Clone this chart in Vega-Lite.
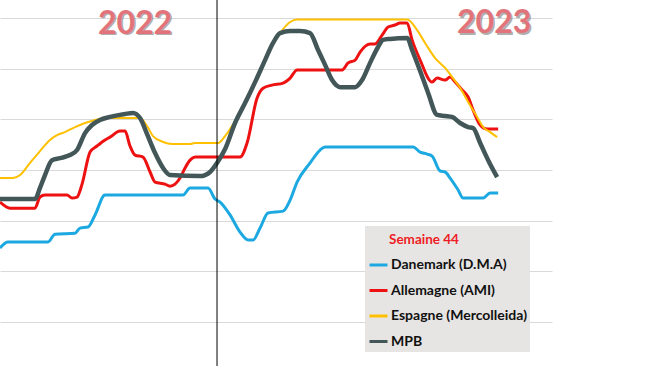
{
  "$schema": "https://vega.github.io/schema/vega-lite/v6.json",
  "width": 552,
  "height": 366,
  "autosize": {"type": "none"},
  "padding": {"left": 0, "top": 0, "right": 98, "bottom": 0},
  "background": "white",
  "config": {"view": {"stroke": null}},
  "datasets": {
    "prix": [
      {"serie": "Danemark (D.M.A)", "semaine": 19.1, "prix": 1.491},
      {"serie": "Danemark (D.M.A)", "semaine": 20.33, "prix": 1.515},
      {"serie": "Danemark (D.M.A)", "semaine": 26.48, "prix": 1.515},
      {"serie": "Danemark (D.M.A)", "semaine": 27.56, "prix": 1.546},
      {"serie": "Danemark (D.M.A)", "semaine": 30.64, "prix": 1.55},
      {"serie": "Danemark (D.M.A)", "semaine": 31.41, "prix": 1.57},
      {"serie": "Danemark (D.M.A)", "semaine": 32.64, "prix": 1.574},
      {"serie": "Danemark (D.M.A)", "semaine": 33.72, "prix": 1.622},
      {"serie": "Danemark (D.M.A)", "semaine": 35.25, "prix": 1.701},
      {"serie": "Danemark (D.M.A)", "semaine": 47.25, "prix": 1.701},
      {"serie": "Danemark (D.M.A)", "semaine": 48.33, "prix": 1.729},
      {"serie": "Danemark (D.M.A)", "semaine": 51.1, "prix": 1.729},
      {"serie": "Danemark (D.M.A)", "semaine": 52.18, "prix": 1.685},
      {"serie": "Danemark (D.M.A)", "semaine": 52.95, "prix": 1.673},
      {"serie": "Danemark (D.M.A)", "semaine": 54.48, "prix": 1.622},
      {"serie": "Danemark (D.M.A)", "semaine": 56.02, "prix": 1.554},
      {"serie": "Danemark (D.M.A)", "semaine": 57.25, "prix": 1.523},
      {"serie": "Danemark (D.M.A)", "semaine": 58.02, "prix": 1.523},
      {"serie": "Danemark (D.M.A)", "semaine": 59.1, "prix": 1.57},
      {"serie": "Danemark (D.M.A)", "semaine": 60.33, "prix": 1.63},
      {"serie": "Danemark (D.M.A)", "semaine": 62.64, "prix": 1.637},
      {"serie": "Danemark (D.M.A)", "semaine": 63.72, "prix": 1.681},
      {"serie": "Danemark (D.M.A)", "semaine": 64.79, "prix": 1.752},
      {"serie": "Danemark (D.M.A)", "semaine": 66.79, "prix": 1.828},
      {"serie": "Danemark (D.M.A)", "semaine": 68.33, "prix": 1.879},
      {"serie": "Danemark (D.M.A)", "semaine": 69.1, "prix": 1.891},
      {"serie": "Danemark (D.M.A)", "semaine": 82.64, "prix": 1.891},
      {"serie": "Danemark (D.M.A)", "semaine": 83.72, "prix": 1.871},
      {"serie": "Danemark (D.M.A)", "semaine": 84.79, "prix": 1.863},
      {"serie": "Danemark (D.M.A)", "semaine": 85.56, "prix": 1.855},
      {"serie": "Danemark (D.M.A)", "semaine": 86.79, "prix": 1.796},
      {"serie": "Danemark (D.M.A)", "semaine": 87.56, "prix": 1.792},
      {"serie": "Danemark (D.M.A)", "semaine": 88.33, "prix": 1.768},
      {"serie": "Danemark (D.M.A)", "semaine": 89.56, "prix": 1.721},
      {"serie": "Danemark (D.M.A)", "semaine": 90.33, "prix": 1.689},
      {"serie": "Danemark (D.M.A)", "semaine": 93.41, "prix": 1.689},
      {"serie": "Danemark (D.M.A)", "semaine": 94.48, "prix": 1.709},
      {"serie": "Danemark (D.M.A)", "semaine": 95.72, "prix": 1.709},

      {"serie": "Allemagne (AMI)", "semaine": 19.1, "prix": 1.673},
      {"serie": "Allemagne (AMI)", "semaine": 20.64, "prix": 1.649},
      {"serie": "Allemagne (AMI)", "semaine": 24.48, "prix": 1.649},
      {"serie": "Allemagne (AMI)", "semaine": 25.25, "prix": 1.693},
      {"serie": "Allemagne (AMI)", "semaine": 26.02, "prix": 1.701},
      {"serie": "Allemagne (AMI)", "semaine": 29.41, "prix": 1.701},
      {"serie": "Allemagne (AMI)", "semaine": 30.18, "prix": 1.689},
      {"serie": "Allemagne (AMI)", "semaine": 30.95, "prix": 1.693},
      {"serie": "Allemagne (AMI)", "semaine": 31.72, "prix": 1.744},
      {"serie": "Allemagne (AMI)", "semaine": 32.95, "prix": 1.871},
      {"serie": "Allemagne (AMI)", "semaine": 34.02, "prix": 1.895},
      {"serie": "Allemagne (AMI)", "semaine": 35.25, "prix": 1.919},
      {"serie": "Allemagne (AMI)", "semaine": 36.02, "prix": 1.93},
      {"serie": "Allemagne (AMI)", "semaine": 37.56, "prix": 1.954},
      {"serie": "Allemagne (AMI)", "semaine": 38.33, "prix": 1.954},
      {"serie": "Allemagne (AMI)", "semaine": 39.1, "prix": 1.895},
      {"serie": "Allemagne (AMI)", "semaine": 39.87, "prix": 1.859},
      {"serie": "Allemagne (AMI)", "semaine": 41.1, "prix": 1.851},
      {"serie": "Allemagne (AMI)", "semaine": 42.18, "prix": 1.792},
      {"serie": "Allemagne (AMI)", "semaine": 42.95, "prix": 1.752},
      {"serie": "Allemagne (AMI)", "semaine": 44.48, "prix": 1.744},
      {"serie": "Allemagne (AMI)", "semaine": 45.25, "prix": 1.736},
      {"serie": "Allemagne (AMI)", "semaine": 46.02, "prix": 1.744},
      {"serie": "Allemagne (AMI)", "semaine": 46.79, "prix": 1.768},
      {"serie": "Allemagne (AMI)", "semaine": 47.56, "prix": 1.808},
      {"serie": "Allemagne (AMI)", "semaine": 48.33, "prix": 1.839},
      {"serie": "Allemagne (AMI)", "semaine": 49.1, "prix": 1.851},
      {"serie": "Allemagne (AMI)", "semaine": 56.02, "prix": 1.851},
      {"serie": "Allemagne (AMI)", "semaine": 57.1, "prix": 1.907},
      {"serie": "Allemagne (AMI)", "semaine": 58.64, "prix": 2.085},
      {"serie": "Allemagne (AMI)", "semaine": 59.56, "prix": 2.124},
      {"serie": "Allemagne (AMI)", "semaine": 60.95, "prix": 2.136},
      {"serie": "Allemagne (AMI)", "semaine": 62.64, "prix": 2.144},
      {"serie": "Allemagne (AMI)", "semaine": 63.72, "prix": 2.164},
      {"serie": "Allemagne (AMI)", "semaine": 64.79, "prix": 2.196},
      {"serie": "Allemagne (AMI)", "semaine": 71.72, "prix": 2.196},
      {"serie": "Allemagne (AMI)", "semaine": 72.64, "prix": 2.224},
      {"serie": "Allemagne (AMI)", "semaine": 73.72, "prix": 2.235},
      {"serie": "Allemagne (AMI)", "semaine": 74.48, "prix": 2.267},
      {"serie": "Allemagne (AMI)", "semaine": 76.02, "prix": 2.299},
      {"serie": "Allemagne (AMI)", "semaine": 76.79, "prix": 2.299},
      {"serie": "Allemagne (AMI)", "semaine": 77.87, "prix": 2.334},
      {"serie": "Allemagne (AMI)", "semaine": 78.79, "prix": 2.366},
      {"serie": "Allemagne (AMI)", "semaine": 79.87, "prix": 2.374},
      {"serie": "Allemagne (AMI)", "semaine": 80.64, "prix": 2.382},
      {"serie": "Allemagne (AMI)", "semaine": 81.72, "prix": 2.382},
      {"serie": "Allemagne (AMI)", "semaine": 82.48, "prix": 2.315},
      {"serie": "Allemagne (AMI)", "semaine": 83.72, "prix": 2.235},
      {"serie": "Allemagne (AMI)", "semaine": 85.56, "prix": 2.148},
      {"serie": "Allemagne (AMI)", "semaine": 86.33, "prix": 2.164},
      {"serie": "Allemagne (AMI)", "semaine": 87.56, "prix": 2.156},
      {"serie": "Allemagne (AMI)", "semaine": 88.33, "prix": 2.168},
      {"serie": "Allemagne (AMI)", "semaine": 89.1, "prix": 2.148},
      {"serie": "Allemagne (AMI)", "semaine": 90.18, "prix": 2.117},
      {"serie": "Allemagne (AMI)", "semaine": 91.1, "prix": 2.089},
      {"serie": "Allemagne (AMI)", "semaine": 91.87, "prix": 2.037},
      {"serie": "Allemagne (AMI)", "semaine": 92.95, "prix": 1.978},
      {"serie": "Allemagne (AMI)", "semaine": 94.02, "prix": 1.962},
      {"serie": "Allemagne (AMI)", "semaine": 95.72, "prix": 1.962},

      {"serie": "Espagne (Mercolleida)", "semaine": 19.1, "prix": 1.768},
      {"serie": "Espagne (Mercolleida)", "semaine": 21.1, "prix": 1.768},
      {"serie": "Espagne (Mercolleida)", "semaine": 22.18, "prix": 1.78},
      {"serie": "Espagne (Mercolleida)", "semaine": 23.72, "prix": 1.828},
      {"serie": "Espagne (Mercolleida)", "semaine": 25.25, "prix": 1.875},
      {"serie": "Espagne (Mercolleida)", "semaine": 26.79, "prix": 1.919},
      {"serie": "Espagne (Mercolleida)", "semaine": 27.87, "prix": 1.938},
      {"serie": "Espagne (Mercolleida)", "semaine": 29.1, "prix": 1.95},
      {"serie": "Espagne (Mercolleida)", "semaine": 30.64, "prix": 1.97},
      {"serie": "Espagne (Mercolleida)", "semaine": 32.18, "prix": 1.986},
      {"serie": "Espagne (Mercolleida)", "semaine": 33.72, "prix": 1.998},
      {"serie": "Espagne (Mercolleida)", "semaine": 35.25, "prix": 2.006},
      {"serie": "Espagne (Mercolleida)", "semaine": 40.64, "prix": 2.006},
      {"serie": "Espagne (Mercolleida)", "semaine": 41.72, "prix": 1.974},
      {"serie": "Espagne (Mercolleida)", "semaine": 42.64, "prix": 1.934},
      {"serie": "Espagne (Mercolleida)", "semaine": 44.18, "prix": 1.911},
      {"serie": "Espagne (Mercolleida)", "semaine": 45.56, "prix": 1.903},
      {"serie": "Espagne (Mercolleida)", "semaine": 48.33, "prix": 1.903},
      {"serie": "Espagne (Mercolleida)", "semaine": 49.1, "prix": 1.907},
      {"serie": "Espagne (Mercolleida)", "semaine": 52.64, "prix": 1.907},
      {"serie": "Espagne (Mercolleida)", "semaine": 53.72, "prix": 1.934},
      {"serie": "Espagne (Mercolleida)", "semaine": 54.79, "prix": 1.974},
      {"serie": "Espagne (Mercolleida)", "semaine": 56.02, "prix": 2.026},
      {"serie": "Espagne (Mercolleida)", "semaine": 57.56, "prix": 2.105},
      {"serie": "Espagne (Mercolleida)", "semaine": 59.1, "prix": 2.188},
      {"serie": "Espagne (Mercolleida)", "semaine": 60.64, "prix": 2.275},
      {"serie": "Espagne (Mercolleida)", "semaine": 62.18, "prix": 2.342},
      {"serie": "Espagne (Mercolleida)", "semaine": 63.72, "prix": 2.386},
      {"serie": "Espagne (Mercolleida)", "semaine": 64.79, "prix": 2.396},
      {"serie": "Espagne (Mercolleida)", "semaine": 81.72, "prix": 2.396},
      {"serie": "Espagne (Mercolleida)", "semaine": 83.25, "prix": 2.354},
      {"serie": "Espagne (Mercolleida)", "semaine": 84.48, "prix": 2.303},
      {"serie": "Espagne (Mercolleida)", "semaine": 86.02, "prix": 2.243},
      {"serie": "Espagne (Mercolleida)", "semaine": 87.56, "prix": 2.204},
      {"serie": "Espagne (Mercolleida)", "semaine": 88.64, "prix": 2.168},
      {"serie": "Espagne (Mercolleida)", "semaine": 89.87, "prix": 2.125},
      {"serie": "Espagne (Mercolleida)", "semaine": 91.1, "prix": 2.069},
      {"serie": "Espagne (Mercolleida)", "semaine": 92.48, "prix": 2.01},
      {"serie": "Espagne (Mercolleida)", "semaine": 93.41, "prix": 1.97},
      {"serie": "Espagne (Mercolleida)", "semaine": 94.48, "prix": 1.95},
      {"serie": "Espagne (Mercolleida)", "semaine": 95.56, "prix": 1.93},

      {"serie": "MPB", "semaine": 19.1, "prix": 1.685},
      {"serie": "MPB", "semaine": 24.48, "prix": 1.685},
      {"serie": "MPB", "semaine": 25.25, "prix": 1.729},
      {"serie": "MPB", "semaine": 26.02, "prix": 1.78},
      {"serie": "MPB", "semaine": 27.1, "prix": 1.839},
      {"serie": "MPB", "semaine": 28.33, "prix": 1.847},
      {"serie": "MPB", "semaine": 29.87, "prix": 1.859},
      {"serie": "MPB", "semaine": 30.95, "prix": 1.879},
      {"serie": "MPB", "semaine": 32.18, "prix": 1.946},
      {"serie": "MPB", "semaine": 33.25, "prix": 1.978},
      {"serie": "MPB", "semaine": 34.48, "prix": 1.998},
      {"serie": "MPB", "semaine": 36.02, "prix": 2.01},
      {"serie": "MPB", "semaine": 38.33, "prix": 2.022},
      {"serie": "MPB", "semaine": 39.56, "prix": 2.026},
      {"serie": "MPB", "semaine": 40.64, "prix": 2.006},
      {"serie": "MPB", "semaine": 41.72, "prix": 1.942},
      {"serie": "MPB", "semaine": 42.95, "prix": 1.867},
      {"serie": "MPB", "semaine": 44.18, "prix": 1.808},
      {"serie": "MPB", "semaine": 45.25, "prix": 1.78},
      {"serie": "MPB", "semaine": 49.87, "prix": 1.776},
      {"serie": "MPB", "semaine": 50.64, "prix": 1.78},
      {"serie": "MPB", "semaine": 51.41, "prix": 1.792},
      {"serie": "MPB", "semaine": 52.48, "prix": 1.828},
      {"serie": "MPB", "semaine": 53.72, "prix": 1.883},
      {"serie": "MPB", "semaine": 55.25, "prix": 1.986},
      {"serie": "MPB", "semaine": 56.79, "prix": 2.065},
      {"serie": "MPB", "semaine": 58.33, "prix": 2.148},
      {"serie": "MPB", "semaine": 59.87, "prix": 2.235},
      {"serie": "MPB", "semaine": 61.1, "prix": 2.303},
      {"serie": "MPB", "semaine": 62.18, "prix": 2.342},
      {"serie": "MPB", "semaine": 63.72, "prix": 2.35},
      {"serie": "MPB", "semaine": 65.25, "prix": 2.35},
      {"serie": "MPB", "semaine": 66.79, "prix": 2.342},
      {"serie": "MPB", "semaine": 68.02, "prix": 2.275},
      {"serie": "MPB", "semaine": 69.1, "prix": 2.216},
      {"serie": "MPB", "semaine": 70.18, "prix": 2.156},
      {"serie": "MPB", "semaine": 71.41, "prix": 2.128},
      {"serie": "MPB", "semaine": 73.72, "prix": 2.128},
      {"serie": "MPB", "semaine": 74.79, "prix": 2.156},
      {"serie": "MPB", "semaine": 76.02, "prix": 2.224},
      {"serie": "MPB", "semaine": 77.25, "prix": 2.287},
      {"serie": "MPB", "semaine": 78.02, "prix": 2.315},
      {"serie": "MPB", "semaine": 79.1, "prix": 2.319},
      {"serie": "MPB", "semaine": 81.72, "prix": 2.323},
      {"serie": "MPB", "semaine": 82.48, "prix": 2.275},
      {"serie": "MPB", "semaine": 83.72, "prix": 2.192},
      {"serie": "MPB", "semaine": 84.95, "prix": 2.105},
      {"serie": "MPB", "semaine": 86.33, "prix": 2.018},
      {"serie": "MPB", "semaine": 87.56, "prix": 2.014},
      {"serie": "MPB", "semaine": 88.64, "prix": 2.01},
      {"serie": "MPB", "semaine": 89.87, "prix": 1.986},
      {"serie": "MPB", "semaine": 91.1, "prix": 1.97},
      {"serie": "MPB", "semaine": 91.87, "prix": 1.966},
      {"serie": "MPB", "semaine": 92.95, "prix": 1.907},
      {"serie": "MPB", "semaine": 94.18, "prix": 1.839},
      {"serie": "MPB", "semaine": 95.56, "prix": 1.772}
    ],
    "annees": [
      {"semaine": 39.87, "prix": 2.378, "annee": "2022"},
      {"semaine": 95.1, "prix": 2.38, "annee": "2023"}
    ],
    "separation": [
      {"semaine": 52.48}
    ]
  },
  "layer": [
    {
      "data": {"name": "prix"},
      "transform": [{"filter": {"field": "serie", "oneOf": ["Danemark (D.M.A)", "Allemagne (AMI)"]}}],
      "mark": {"type": "line", "interpolate": "monotone", "clip": true, "strokeWidth": 3},
      "encoding": {
        "x": {"field": "semaine", "type": "quantitative", "scale": {"domain": [19.1, 104], "nice": false, "zero": false}, "axis": null},
        "y": {"field": "prix", "type": "quantitative", "scale": {"domain": [1.024, 2.473], "nice": false, "zero": false},
              "axis": {"values": [1.2, 1.4, 1.6, 1.8, 2.0, 2.2, 2.4], "grid": true, "gridColor": "#d9d9d9", "gridWidth": 1, "labels": false, "ticks": false, "domain": false, "title": null}},
        "color": {
          "field": "serie", "type": "nominal",
          "scale": {"domain": ["Danemark (D.M.A)", "Allemagne (AMI)", "Espagne (Mercolleida)", "MPB"], "range": ["#1ca8e0", "#ee1111", "#ffc000", "#435759"]},
          "legend": {
            "title": "Semaine 44",
            "orient": "none",
            "legendX": 365,
            "legendY": 226,
            "fillColor": "#e7e5e3",
            "padding": 3,
            "titleColor": "#ee1c25",
            "titleFont": "Lato",
            "titleFontSize": 13.5,
            "titleFontWeight": "bold",
            "titlePadding": 12,
            "labelFont": "Lato",
            "labelFontSize": 14,
            "labelFontWeight": "bold",
            "labelColor": "#111111",
            "labelLimit": 300,
            "labelOffset": 2,
            "symbolType": "stroke",
            "symbolSize": 324,
            "symbolStrokeWidth": 3,
            "rowPadding": 7.5,
            "encoding": {"title": {"dx": {"value": 21}, "dy": {"value": 4}}}
          }
        }
      }
    },
    {
      "data": {"name": "prix"},
      "transform": [{"filter": {"field": "serie", "equal": "Espagne (Mercolleida)"}}],
      "mark": {"type": "line", "interpolate": "monotone", "clip": true, "strokeWidth": 2, "color": "#ffc000"},
      "encoding": {
        "x": {"field": "semaine", "type": "quantitative"},
        "y": {"field": "prix", "type": "quantitative"}
      }
    },
    {
      "data": {"name": "prix"},
      "transform": [{"filter": {"field": "serie", "equal": "MPB"}}],
      "mark": {"type": "line", "interpolate": "monotone", "clip": true, "strokeWidth": 4.5, "color": "#435759"},
      "encoding": {
        "x": {"field": "semaine", "type": "quantitative"},
        "y": {"field": "prix", "type": "quantitative"}
      }
    },
    {
      "data": {"name": "separation"},
      "mark": {"type": "rule", "color": "#000000", "strokeWidth": 1},
      "encoding": {
        "x": {"field": "semaine", "type": "quantitative"}
      }
    },
    {
      "data": {"name": "annees"},
      "mark": {"type": "text", "font": "Lato", "fontSize": 32, "fontWeight": "bold", "color": "#6e6e6e", "opacity": 0.55, "dx": 1.5, "dy": 1.5, "align": "center", "baseline": "middle"},
      "encoding": {
        "x": {"field": "semaine", "type": "quantitative"},
        "y": {"field": "prix", "type": "quantitative"},
        "text": {"field": "annee"}
      }
    },
    {
      "data": {"name": "annees"},
      "mark": {"type": "text", "font": "Lato", "fontSize": 32, "fontWeight": "bold", "color": "#e3737a", "align": "center", "baseline": "middle"},
      "encoding": {
        "x": {"field": "semaine", "type": "quantitative"},
        "y": {"field": "prix", "type": "quantitative"},
        "text": {"field": "annee"}
      }
    }
  ]
}
